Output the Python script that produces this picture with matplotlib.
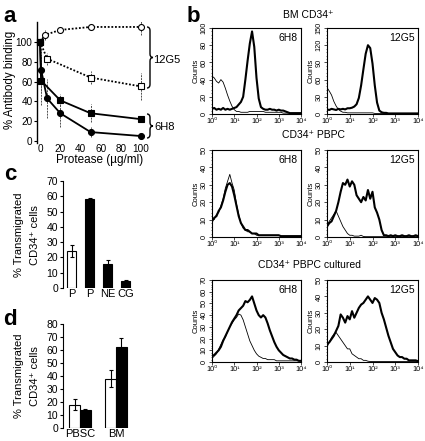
import matplotlib
matplotlib.use('Agg')
import matplotlib.pyplot as plt
from matplotlib.path import Path
from matplotlib.patches import PathPatch
from matplotlib.ticker import LogLocator, AutoMinorLocator, NullFormatter
import numpy as np

plt.rcParams['font.family'] = ['Liberation Sans', 'DejaVu Sans']

# ---------------- Data ----------------
# Panel a
prot_12g5_circ_x = [0, 5, 20, 50, 100]
prot_12g5_circ_y = [100, 107, 112, 115, 115]
prot_12g5_circ_e = [0, 5, 3, 3, 8]
prot_12g5_sq_x = [0, 7, 50, 100]
prot_12g5_sq_y = [100, 83, 64, 55]
prot_12g5_sq_e = [0, 6, 7, 14]
prot_6h8_sq_x = [0, 1, 20, 50, 100]
prot_6h8_sq_y = [100, 61, 41, 28, 22]
prot_6h8_sq_e = [0, 25, 6, 9, 3]
prot_6h8_circ_x = [0, 1, 7, 20, 50, 100]
prot_6h8_circ_y = [100, 72, 43, 28, 9, 5]
prot_6h8_circ_e = [0, 22, 20, 14, 5, 3]
prot_ticks = [0, 20, 40, 60, 80, 100]

# Panel c
c_labels = ['P', 'P', 'NE', 'CG']
c_values = [24, 58, 16, 4.5]
c_errors = [4, 0.6, 2, 0.6]
c_colors = ['white', 'black', 'black', 'black']

# Panel d
d_groups = ['PBSC', 'BM']
d_white = [18, 38]
d_white_err = [4.5, 6.5]
d_black = [13.5, 62]
d_black_err = [1.5, 7]

# Panel b histograms (log10 fluorescence 0.0 .. 4.0 every 0.1 decade)
log_channels = [i / 10 for i in range(41)]
bm_6h8_thick = [6, 7, 5, 6, 5, 7, 5, 6, 5, 6, 7, 8, 11, 14, 20, 40, 62, 82, 96, 78, 42,
                18, 8, 6, 5, 5, 6, 5, 5, 4, 5, 4, 4, 3, 2, 1, 1, 1, 1, 1, 1]
bm_6h8_thin = [44, 42, 38, 36, 40, 37, 30, 22, 15, 9, 5, 3, 3, 2, 2, 2, 2, 3, 3, 3, 3,
               3, 3, 3, 2, 2, 2, 2, 2, 2, 2, 2, 1, 1, 1, 1, 1, 1, 1, 1, 1]
bm_12g5_thick = [8, 7, 9, 8, 7, 9, 8, 9, 8, 10, 10, 11, 13, 17, 28, 50, 78, 105, 120, 115, 88,
                 50, 20, 6, 3, 2, 2, 1, 1, 1, 1, 1, 1, 1, 1, 1, 1, 1, 1, 1, 1]
bm_12g5_thin = [46, 40, 33, 22, 14, 8, 5, 3, 3, 2, 2, 2, 2, 2, 2, 2, 2, 2, 2, 2, 2,
                1, 1, 1, 1, 1, 1, 1, 1, 1, 1, 1, 1, 1, 1, 1, 1, 1, 1, 1, 1]
pb_6h8_thick = [9, 11, 12, 15, 17, 21, 26, 30, 31, 29, 24, 18, 12, 8, 6, 4, 4, 3, 2, 2, 2,
                1, 1, 1, 1, 1, 1, 1, 1, 1, 1, 0.5, 0.5, 0.5, 0.5, 0.5, 0.5, 0.5, 0.5, 0.5, 0.5]
pb_6h8_thin = [10, 10, 13, 14, 18, 22, 28, 32, 36, 31, 27, 19, 13, 8, 5, 4, 3, 3, 2, 2, 1,
               1, 1, 1, 1, 1, 1, 1, 1, 1, 1, 0.5, 0.5, 0.5, 0.5, 0.5, 0.5, 0.5, 0.5, 0.5, 0.5]
pb_12g5_thick = [6, 8, 9, 12, 15, 20, 26, 31, 30, 33, 29, 32, 30, 24, 22, 20, 23, 21, 27, 22, 26,
                 17, 14, 10, 4, 1, 1, 0.5, 1, 0.5, 1, 0.5, 0.5, 1, 0.5, 0.5, 1, 0.5, 0.5, 1, 0.5]
pb_12g5_thin = [7, 9, 11, 13, 15, 12, 9, 6, 4, 2, 1, 1, 0.5, 0.5, 0.5, 1, 0.3, 0.2, 0.2, 0.2, 0.2,
                0.2, 0.2, 0.2, 0.2, 0.2, 0.2, 0.2, 0.2, 0.2, 0.2, 0.2, 0.2, 0.2, 0.2, 0.2, 0.2, 0.2, 0.2, 0.2, 0.2]
cu_6h8_thick = [5, 6, 8, 10, 13, 18, 22, 26, 30, 34, 37, 40, 44, 46, 48, 52, 51, 53, 56, 50, 44,
                40, 38, 40, 38, 33, 27, 22, 17, 13, 10, 8, 6, 5, 4, 3, 3, 2, 2, 1, 1]
cu_6h8_thin = [3, 5, 7, 11, 15, 19, 21, 26, 30, 33, 36, 38, 41, 40, 36, 30, 24, 18, 14, 10, 7,
               5, 4, 3, 3, 2, 2, 2, 2, 1, 1, 1, 1, 1, 1, 1, 1, 1, 1, 1, 1]
cu_12g5_thick = [11, 12, 14, 16, 19, 22, 29, 27, 24, 28, 26, 31, 27, 30, 33, 35, 36, 38, 40, 38, 36,
                 39, 38, 36, 30, 26, 21, 16, 12, 8, 6, 4, 3, 3, 2, 2, 1, 1, 1, 1, 0.5]
cu_12g5_thin = [9, 12, 15, 17, 18, 16, 14, 12, 10, 8, 8, 5, 4, 3, 2, 2, 1, 1, 0.5, 0.3, 0.3,
                0.3, 0.3, 0.3, 0.3, 0.3, 0.3, 0.3, 0.3, 0.3, 0.3, 0.3, 0.3, 0.3, 0.3, 0.3, 0.3, 0.3, 0.3, 0.3, 0.3]
decade_ticks = [1, 10, 100, 1000, 10000]
decade_labels = ['10\u2070', '10\u00b9', '10\u00b2', '10\u00b3', '10\u2074']

# ---------------- Figure ----------------
W, H = 425, 441
fig = plt.figure(figsize=(W / 100, H / 100), dpi=100)


def box(l, t, r, b):
    return [l / W, 1 - b / H, (r - l) / W, (b - t) / H]


def ftext(x, y, s, **kw):
    return fig.text(x / W, 1 - y / H, s, **kw)


def brace(x0, t, b, w):
    m = (t + b) / 2
    q = min(w * 0.6, (b - t) / 6)
    xm = x0 + w / 2
    pts = [(x0, t), (xm, t), (xm, t + q), (xm, m - q), (xm, m), (x0 + w, m),
           (xm, m), (xm, m + q), (xm, b - q), (xm, b), (x0, b)]
    codes = [Path.MOVETO, Path.CURVE3, Path.CURVE3, Path.LINETO, Path.CURVE3, Path.CURVE3,
             Path.CURVE3, Path.CURVE3, Path.LINETO, Path.CURVE3, Path.CURVE3]
    pts = [(px / W, 1 - py / H) for px, py in pts]
    fig.patches.append(PathPatch(Path(pts, codes), transform=fig.transFigure,
                                 fill=False, lw=1.0, color='black'))


# Panel letters
for lab, x, y in [('a', 3, 22), ('b', 187, 22), ('c', 4, 180), ('d', 3, 325)]:
    ftext(x, y, lab, fontsize=16, fontweight='bold', va='baseline', ha='left')

# ---- Panel a ----
ax = fig.add_axes(box(37, 22, 154, 143))
for s in ['top', 'right', 'bottom']:
    ax.spines[s].set_visible(False)
ax.spines['left'].set_linewidth(1.0)
ax.set_xlim(-3, 112.7)
ax.set_ylim(-2, 120)
ax.set_yticks(range(0, 101, 20))
ax.set_xticks(prot_ticks)
ax.tick_params(axis='x', length=0, pad=0.5, labelsize=7.2)
ax.tick_params(axis='y', length=2, pad=1.2, labelsize=7.2, width=0.8)

series = [
    (prot_12g5_circ_x, prot_12g5_circ_y, prot_12g5_circ_e, 'o', 'white', (0, (1, 1))),
    (prot_12g5_sq_x, prot_12g5_sq_y, prot_12g5_sq_e, 's', 'white', (0, (1, 1))),
    (prot_6h8_sq_x, prot_6h8_sq_y, prot_6h8_sq_e, 's', 'black', '-'),
    (prot_6h8_circ_x, prot_6h8_circ_y, prot_6h8_circ_e, 'o', 'black', '-'),
]
for xs, ys, es, mk, fc, ls in series:
    xs = np.array(xs); ys = np.array(ys); es = np.array(es)
    ax.vlines(xs, ys - es, ys + es, colors='0.3', linestyles=(0, (2, 1)), lw=0.7, zorder=1)
    ax.plot(xs, ys, ls=ls, lw=1.3, color='black', marker=mk, mfc=fc, mec='black',
            ms=4.3, mew=0.8, zorder=3, clip_on=False)

brace(147, 27, 88, 6)
brace(147, 114, 138, 6)
ftext(153, 60, '12G5', fontsize=8, va='center', ha='left')
ftext(154, 127, '6H8', fontsize=8, va='center', ha='left')
ftext(10, 80, '% Antibody binding', rotation=90, fontsize=8.3, ha='center', va='center')
ftext(100, 160, 'Protease (\u00b5g/ml)', fontsize=8.5, ha='center', va='center')

# ---- Panel c ----
axc = fig.add_axes(box(63, 181, 135, 288))
for s in ['top', 'right', 'bottom']:
    axc.spines[s].set_visible(False)
axc.set_xlim(-0.47, 3.5)
axc.set_ylim(0, 70)
axc.bar(range(len(c_values)), c_values, width=0.5, color=c_colors, edgecolor='black', lw=0.8)
axc.errorbar(range(len(c_values)), c_values, yerr=c_errors, fmt='none', ecolor='black',
             elinewidth=0.8, capsize=1.5, capthick=0.8)
axc.set_yticks(range(0, 71, 10))
axc.set_xticks(range(len(c_labels)))
axc.set_xticklabels(c_labels)
axc.tick_params(axis='x', length=0, pad=1, labelsize=8)
axc.tick_params(axis='y', length=2, pad=1.5, labelsize=7.5, width=0.8)
ftext(19, 235, '% Transmigrated', rotation=90, fontsize=8, ha='center', va='center')
ftext(35, 235, 'CD34\u207a cells', rotation=90, fontsize=8, ha='center', va='center')

# ---- Panel d ----
axd = fig.add_axes(box(63, 324, 135, 428))
for s in ['top', 'right', 'bottom']:
    axd.spines[s].set_visible(False)
axd.set_xlim(-0.47, 1.53)
axd.set_ylim(0, 80)
gx = np.arange(len(d_groups))
axd.bar(gx - 0.15, d_white, width=0.3, color='white', edgecolor='black', lw=0.8)
axd.bar(gx + 0.15, d_black, width=0.3, color='black', edgecolor='black', lw=0.8)
axd.errorbar(gx - 0.15, d_white, yerr=d_white_err, fmt='none', ecolor='black',
             elinewidth=0.8, capsize=1.5, capthick=0.8)
axd.errorbar(gx + 0.15, d_black, yerr=d_black_err, fmt='none', ecolor='black',
             elinewidth=0.8, capsize=1.5, capthick=0.8)
axd.set_yticks(range(0, 81, 10))
axd.set_xticks(gx)
axd.set_xticklabels(d_groups)
axd.tick_params(axis='x', length=0, pad=1, labelsize=8)
axd.tick_params(axis='y', length=2, pad=1.5, labelsize=7.5, width=0.8)
ftext(19, 376, '% Transmigrated', rotation=90, fontsize=8, ha='center', va='center')
ftext(35, 376, 'CD34\u207a cells', rotation=90, fontsize=8, ha='center', va='center')

# ---- Panel b ----
fluor = 10 ** np.array(log_channels)


def hist_ax(l, t, r, b, ymax, ystep, thick, thin, label):
    a = fig.add_axes(box(l, t, r, b))
    a.set_xscale('log')
    a.set_xlim(1, 1e4)
    a.set_ylim(0, ymax)
    a.plot(fluor, thin, color='black', lw=0.6)
    a.plot(fluor, thick, color='black', lw=1.5)
    a.set_xticks(decade_ticks)
    a.set_xticklabels(decade_labels)
    a.xaxis.set_minor_locator(LogLocator(base=10, subs=range(2, 10)))
    a.xaxis.set_minor_formatter(NullFormatter())
    yt = list(range(0, ymax + 1, ystep))
    a.set_yticks(yt)
    a.set_yticklabels([str(v) for v in yt], rotation=90, va='center')
    a.yaxis.set_minor_locator(AutoMinorLocator(5))
    a.tick_params(which='major', labelsize=5.3, length=2, width=0.5, pad=1)
    a.tick_params(which='minor', length=1, width=0.4)
    for s in a.spines.values():
        s.set_linewidth(0.8)
    a.text(0.96, 0.94, label, transform=a.transAxes, ha='right', va='top', fontsize=7.5)
    a.set_ylabel('Counts', fontsize=5.5, labelpad=1)
    return a


hist_ax(212, 28, 301, 114, 100, 20, bm_6h8_thick, bm_6h8_thin, '6H8')
hist_ax(327, 28, 418, 114, 150, 30, bm_12g5_thick, bm_12g5_thin, '12G5')
hist_ax(212, 150, 301, 237, 50, 10, pb_6h8_thick, pb_6h8_thin, '6H8')
hist_ax(327, 150, 418, 237, 50, 10, pb_12g5_thick, pb_12g5_thin, '12G5')
hist_ax(212, 280, 301, 362, 70, 10, cu_6h8_thick, cu_6h8_thin, '6H8')
hist_ax(327, 280, 418, 362, 50, 10, cu_12g5_thick, cu_12g5_thin, '12G5')

ftext(308, 15, 'BM CD34\u207a', fontsize=7.5, ha='center', va='center')
ftext(313, 135, 'CD34\u207a PBPC', fontsize=7.5, ha='center', va='center')
ftext(309, 265, 'CD34\u207a PBPC cultured', fontsize=7.5, ha='center', va='center')

fig.savefig('out.png', dpi=100)
